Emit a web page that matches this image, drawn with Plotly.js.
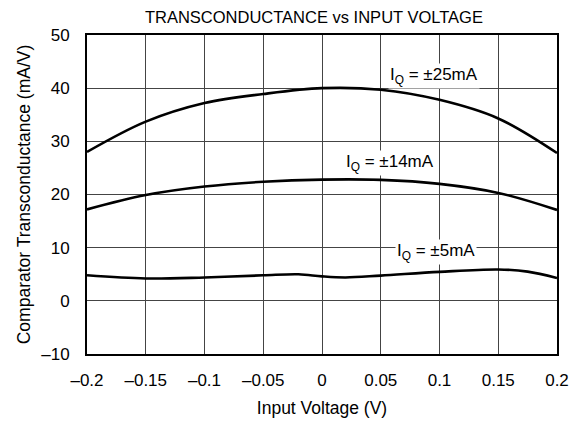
<!DOCTYPE html>
<html><head><meta charset="utf-8">
<script src="https://cdn.plot.ly/plotly-3.0.1.min.js"></script>
<style>html,body{margin:0;padding:0;background:#fff}#chart{width:576px;height:423px}</style>
</head><body><div id="chart"></div>
<script>
const x25 = [-0.2, -0.15, -0.1, -0.05, 0, 0.05, 0.1, 0.15, 0.2];
const y25 = [28.0, 33.7, 37.2, 38.9, 40.0, 39.7, 37.8, 34.3, 27.8];
const x14 = [-0.2, -0.15, -0.1, -0.05, 0, 0.05, 0.1, 0.15, 0.2];
const y14 = [17.2, 19.9, 21.5, 22.4, 22.8, 22.75, 22.0, 20.3, 17.1];
const x5 = [-0.2, -0.15, -0.1, -0.05, -0.02, 0, 0.02, 0.05, 0.1, 0.15, 0.175, 0.2];
const y5 = [4.8, 4.2, 4.4, 4.8, 5.0, 4.6, 4.4, 4.75, 5.45, 5.9, 5.5, 4.3];
const labels = ["I<sub>Q</sub> = ±25mA", "I<sub>Q</sub> = ±14mA", "I<sub>Q</sub> = ±5mA"];
const labelX = [0.095, 0.058, 0.097];
const labelY = [42.3, 26.0, 9.2];
const xTicks = [-0.2, -0.15, -0.1, -0.05, 0, 0.05, 0.1, 0.15, 0.2];
const xTickText = ["–0.2", "–0.15", "–0.1", "–0.05", "0", "0.05", "0.1", "0.15", "0.2"];
const yTicks = [-10, 0, 10, 20, 30, 40, 50];
const yTickText = ["–10", "0", "10", "20", "30", "40", "50"];

const lineStyle = {color: '#000', width: 2.6, shape: 'spline', smoothing: 1};
const traces = [
  {x: x25, y: y25, mode: 'lines', line: lineStyle, hoverinfo: 'skip'},
  {x: x14, y: y14, mode: 'lines', line: lineStyle, hoverinfo: 'skip'},
  {x: x5, y: y5, mode: 'lines', line: lineStyle, hoverinfo: 'skip'}
];
const fam = 'Liberation Sans, Arial, sans-serif';
const layout = {
  width: 576, height: 423,
  margin: {l: 87, r: 19, t: 35, b: 69},
  paper_bgcolor: '#fff', plot_bgcolor: '#fff',
  showlegend: false,
  font: {family: fam, size: 16, color: '#000'},
  title: {text: 'TRANSCONDUCTANCE vs INPUT VOLTAGE', font: {family: fam, size: 16.5, color: '#000'}, x: 0.545, xanchor: 'center', y: 0.96, yanchor: 'middle'},
  xaxis: {
    range: [-0.2, 0.2], tickvals: xTicks, ticktext: xTickText,
    showgrid: true, gridcolor: '#444', gridwidth: 1,
    zeroline: false, showline: true, linecolor: '#000', linewidth: 2, mirror: true,
    ticks: 'outside', ticklen: 10, tickcolor: 'rgba(0,0,0,0)',
    tickfont: {family: fam, size: 17, color: '#000'},
    title: {text: 'Input Voltage (V)', font: {family: fam, size: 17.5, color: '#000'}, standoff: 12}
  },
  yaxis: {
    range: [-10, 50], tickvals: yTicks, ticktext: yTickText,
    showgrid: true, gridcolor: '#444', gridwidth: 1,
    zeroline: false, showline: true, linecolor: '#000', linewidth: 2, mirror: true,
    ticks: 'outside', ticklen: 12, tickcolor: 'rgba(0,0,0,0)',
    tickfont: {family: fam, size: 17, color: '#000'},
    title: {text: 'Comparator Transconductance (mA/V)', font: {family: fam, size: 17.5, color: '#000'}, standoff: 6}
  },
  annotations: labels.map((t, i) => ({
    x: labelX[i], y: labelY[i], xref: 'x', yref: 'y', text: t, showarrow: false,
    font: {family: fam, size: 17, color: '#000'}, bgcolor: '#fff', borderpad: 1
  }))
};
Plotly.newPlot('chart', traces, layout, {displayModeBar: false, staticPlot: true});
</script></body></html>
